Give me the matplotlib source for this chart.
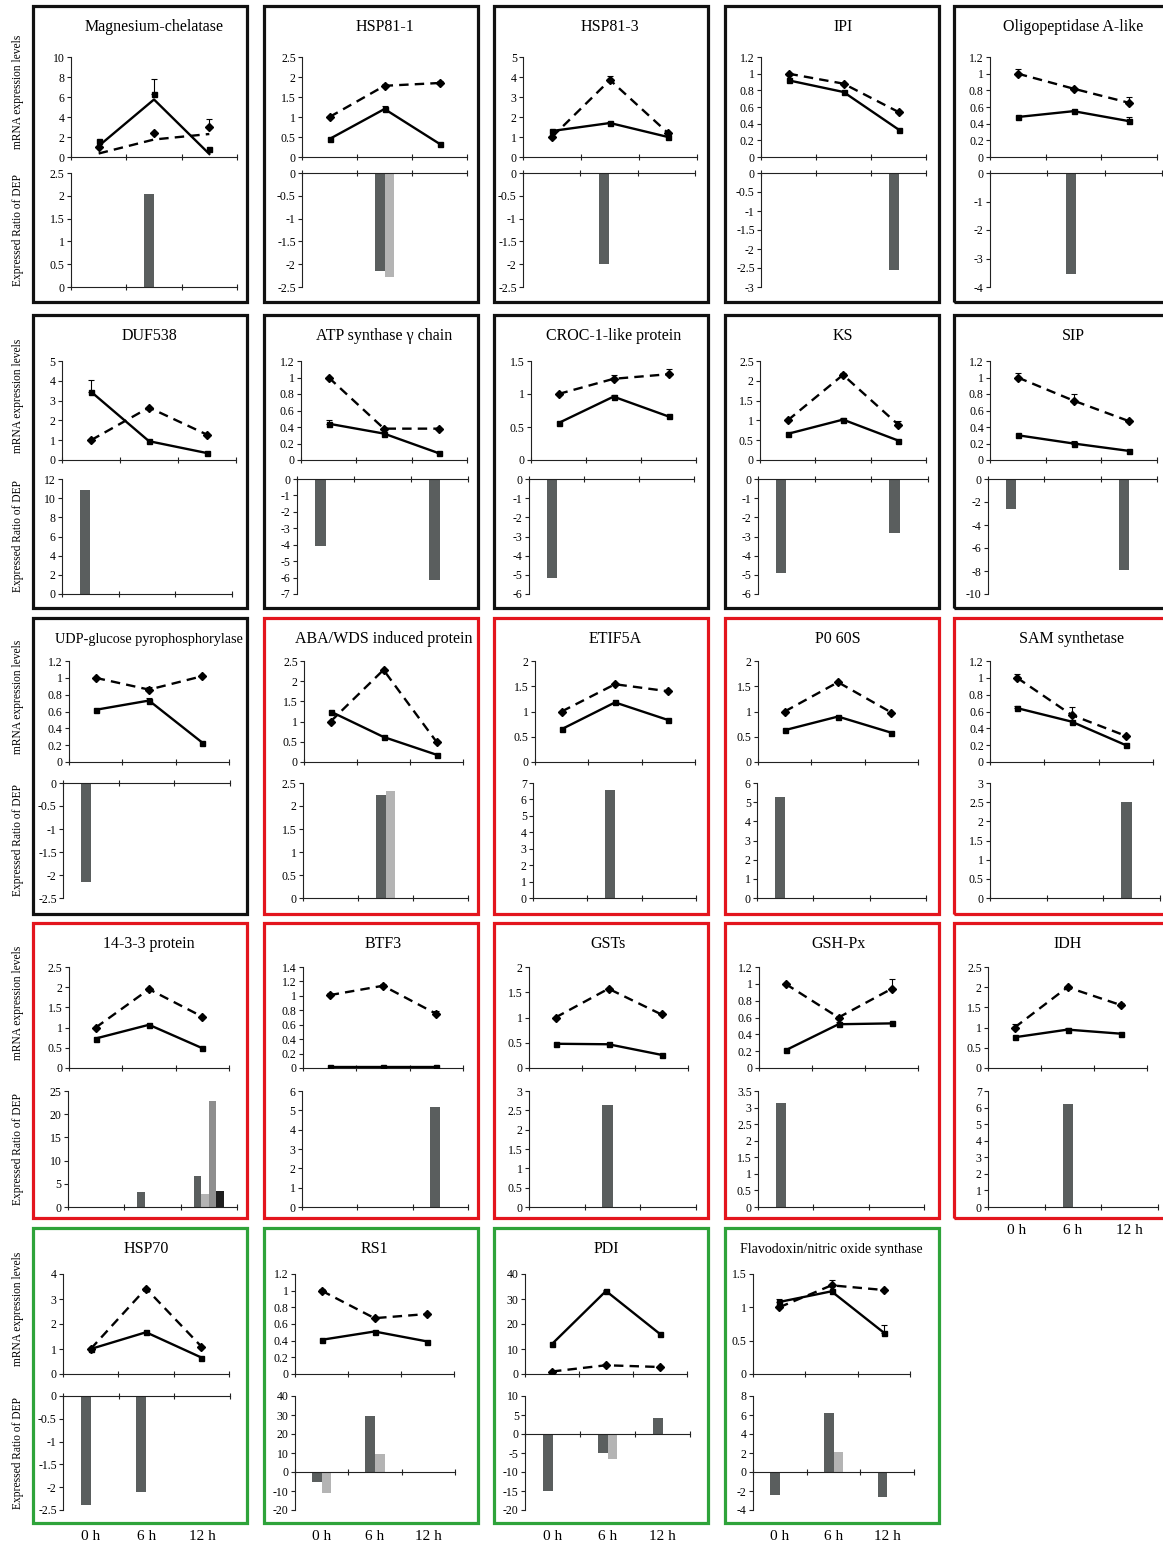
import matplotlib
matplotlib.use('Agg')
import matplotlib.pyplot as plt
import matplotlib.patches as mpatches
from matplotlib.ticker import FuncFormatter, MultipleLocator
import numpy as np

plt.rcParams['font.family'] = ['Liberation Serif', 'DejaVu Serif']
plt.rcParams['axes.unicode_minus'] = False

W, H = 1163, 1547

# ---- data ----
TITLES = ['Magnesium-chelatase', 'HSP81-1', 'HSP81-3', 'IPI', 'Oligopeptidase A-like',
          'DUF538', 'ATP synthase \u03b3 chain', 'CROC-1-like protein', 'KS', 'SIP',
          'UDP-glucose pyrophosphorylase', 'ABA/WDS induced protein', 'ETIF5A', 'P0 60S', 'SAM synthetase',
          '14-3-3 protein', 'BTF3', 'GSTs', 'GSH-Px', 'IDH',
          'HSP70', 'RS1', 'PDI', 'Flavodoxin/nitric oxide synthase']

SOLID = [[1.6, 6.3, 0.85], [0.45, 1.2, 0.33], [1.3, 1.7, 1.0], [0.92, 0.78, 0.33], [0.48, 0.55, 0.43],
         [3.45, 0.95, 0.35], [0.44, 0.32, 0.08], [0.56, 0.96, 0.66], [0.66, 1.02, 0.49], [0.3, 0.2, 0.11],
         [0.62, 0.73, 0.23], [1.25, 0.62, 0.18], [0.65, 1.18, 0.83], [0.63, 0.9, 0.58], [0.64, 0.48, 0.2],
         [0.73, 1.07, 0.49], [0.01, 0.01, 0.01], [0.48, 0.47, 0.26], [0.21, 0.52, 0.53], [0.76, 0.95, 0.85],
         [1.0, 1.67, 0.66], [0.41, 0.51, 0.39], [12.0, 33.2, 16.0], [1.08, 1.24, 0.62]]
SOLID_ERR = [[0, 1.5, 0], [0, 0.07, 0], [0, 0.04, 0], [0, 0, 0], [0, 0, 0.05],
             [0.6, 0, 0], [0.04, 0, 0.02], [0, 0.03, 0], [0, 0.05, 0], [0, 0.03, 0],
             [0, 0.03, 0], [0, 0, 0], [0, 0, 0], [0, 0, 0], [0.03, 0, 0],
             [0, 0, 0], [0, 0, 0], [0, 0, 0], [0, 0.03, 0], [0, 0.04, 0],
             [0, 0, 0], [0, 0, 0], [0, 0.6, 0], [0.05, 0, 0.12]]
DASHED = [[1.0, 2.4, 3.0], [1.0, 1.78, 1.85], [1.0, 3.85, 1.2], [1.0, 0.88, 0.54], [1.0, 0.82, 0.65],
          [1.0, 2.65, 1.28], [1.0, 0.38, 0.38], [1.0, 1.23, 1.3], [1.0, 2.15, 0.89], [1.0, 0.72, 0.47],
          [1.0, 0.86, 1.02], [1.0, 2.28, 0.5], [1.0, 1.54, 1.4], [1.0, 1.58, 0.98], [1.0, 0.56, 0.31],
          [1.0, 1.95, 1.27], [1.01, 1.14, 0.75], [1.0, 1.57, 1.06], [1.0, 0.6, 0.94], [1.0, 2.0, 1.56],
          [1.0, 3.42, 1.1], [1.0, 0.67, 0.72], [1.0, 3.5, 2.8], [1.0, 1.33, 1.26]]
DASHED_ERR = [[0, 0, 0.8], [0.03, 0.05, 0.05], [0, 0.2, 0], [0, 0, 0], [0.05, 0, 0.07],
              [0, 0, 0], [0, 0, 0], [0, 0.06, 0.08], [0, 0.05, 0.1], [0.06, 0.08, 0],
              [0, 0.03, 0], [0, 0, 0], [0, 0, 0], [0, 0, 0], [0.04, 0.09, 0],
              [0, 0, 0], [0.03, 0.03, 0.04], [0, 0, 0], [0, 0.02, 0.12], [0.1, 0, 0.06],
              [0, 0, 0], [0.02, 0, 0], [0, 0, 0], [0, 0.08, 0]]
# Magnesium-chelatase: Excel lines do not pass through the markers
LINE_OVERRIDE_SOLID = {0: [1.1, 5.75, 0.3]}
LINE_OVERRIDE_DASHED = {0: [0.35, 1.75, 2.3]}

LINE_YMAX = [10, 2.5, 5, 1.2, 1.2,
             5, 1.2, 1.5, 2.5, 1.2,
             1.2, 2.5, 2, 2, 1.2,
             2.5, 1.4, 2, 1.2, 2.5,
             4, 1.2, 40, 1.5]
LINE_YSTEP = [2, 0.5, 1, 0.2, 0.2,
              1, 0.2, 0.5, 0.5, 0.2,
              0.2, 0.5, 0.5, 0.5, 0.2,
              0.5, 0.2, 0.5, 0.2, 0.5,
              1, 0.2, 10, 0.5]

BAR_YLIM = [(0, 2.5), (-2.5, 0), (-2.5, 0), (-3, 0), (-4, 0),
            (0, 12), (-7, 0), (-6, 0), (-6, 0), (-10, 0),
            (-2.5, 0), (0, 2.5), (0, 7), (0, 6), (0, 3),
            (0, 25), (0, 6), (0, 3), (0, 3.5), (0, 7),
            (-2.5, 0), (-20, 40), (-20, 10), (-4, 8)]
BAR_YSTEP = [0.5, 0.5, 0.5, 0.5, 1,
             2, 1, 1, 1, 2,
             0.5, 0.5, 1, 1, 0.5,
             5, 1, 0.5, 0.5, 1,
             0.5, 10, 5, 2]
BAR_DARK = [[0, 2.03, 0], [0, -2.15, 0], [0, -2.0, 0], [0, 0, -2.55], [0, -3.55, 0],
            [10.9, 0, 0], [-4.1, 0, -6.15], [-5.15, 0, 0], [-4.9, 0, -2.8], [-2.6, 0, -7.95],
            [-2.15, 0, 0], [0, 2.25, 0], [0, 6.55, 0], [5.25, 0, 0], [0, 0, 2.5],
            [0, 3.2, 6.6], [0, 0, 5.15], [0, 2.65, 0], [3.15, 0, 0], [0, 6.2, 0],
            [-2.38, -2.1, 0], [-5.5, 29.7, 0], [-15.0, -4.9, 4.1], [-2.4, 6.2, -2.6]]
BAR_LIGHT = {1: [0, -2.28, 0], 11: [0, 2.33, 0], 15: [0, 0, 2.9],
             21: [-11.0, 9.3, 0], 22: [0, -6.6, 0], 23: [0, 2.1, 0]}
BAR_MID = {15: [0, 0, 22.9]}
BAR_BLACK = {15: [0, 0, 3.5]}

TIMES = ['0 h', '6 h', '12 h']

BOX_COLORS = ['k'] * 11 + ['r'] * 9 + ['g'] * 4

# ---- layout (pixels) ----
ROW_BOX = [(6, 302), (315, 608), (618, 914), (923, 1218), (1228, 1523)]
ROW_LINE_Y = [(57, 157), (361, 460), (661, 762), (967, 1068), (1274, 1374)]
ROW_BAR_Y = [(173, 287), (479, 594), (783, 898), (1091, 1207), (1396, 1510)]
COL_BOX_X = [33, 264, 494, 725, 954]
BOX_W = 214
LINE_X = [(71, 237), (302, 467), (523, 697), (761, 926), (990, 1157),
          (62, 236), (301, 467), (531, 696), (760, 926), (990, 1157),
          (69, 229), (304, 463), (535, 695), (758, 918), (990, 1153),
          (69, 229), (303, 463), (529, 688), (759, 918), (988, 1147),
          (63, 229), (295, 454), (525, 687), (753, 910)]
BAR_X = [(71, 237), (302, 467), (523, 695), (761, 926), (990, 1162),
         (62, 232), (297, 468), (529, 694), (758, 928), (988, 1157),
         (63, 230), (303, 468), (533, 696), (757, 926), (990, 1160),
         (68, 237), (302, 468), (529, 696), (758, 924), (988, 1158),
         (63, 230), (295, 455), (525, 690), (753, 914)]
XLABEL_PANELS = [19, 20, 21, 22, 23]

EDGE = {'k': '#111111', 'r': '#e3151d', 'g': '#2ea33a'}
BAR_COLORS = ['#5a5e5e', '#b4b4b4', '#8e8e8e', '#1e1e1e']

fmt = FuncFormatter(lambda v, p: '%g' % round(v, 6))


def frac(x0, y0, x1, y1):
    return [x0 / W, 1 - y1 / H, (x1 - x0) / W, (y1 - y0) / H]


def style(ax):
    for s in ['top', 'right']:
        ax.spines[s].set_visible(False)
    for s in ['left', 'bottom']:
        ax.spines[s].set_linewidth(0.8)
        ax.spines[s].set_color('#222222')
    ax.set_xlim(0, 3)
    ax.set_xticks([0, 1, 2, 3])
    ax.set_xticklabels([])
    ax.tick_params(axis='x', direction='inout', length=5, width=0.8, color='#222222')
    ax.tick_params(axis='y', direction='out', length=3, width=0.8, pad=1.5,
                   labelsize=8.5, color='#222222')
    ax.yaxis.set_major_formatter(fmt)
    ax.patch.set_alpha(0)


def title_size(t):
    if len(t) > 30:
        return 10
    if len(t) > 25:
        return 10.3
    return 11.5


fig = plt.figure(figsize=(W / 100, H / 100), dpi=100)
x = np.array([0.5, 1.5, 2.5])

for i, title in enumerate(TITLES):
    r, c = divmod(i, 5)
    bt, bb = ROW_BOX[r]
    bl = COL_BOX_X[c]
    rect = mpatches.Rectangle((bl / W, 1 - bb / H), BOX_W / W, (bb - bt) / H,
                              transform=fig.transFigure, fill=False,
                              edgecolor=EDGE[BOX_COLORS[i]], linewidth=2.3)
    fig.add_artist(rect)

    # line chart
    lx0, lx1 = LINE_X[i]
    ly0, ly1 = ROW_LINE_Y[r]
    ax = fig.add_axes(frac(lx0, ly0, lx1, ly1))
    style(ax)
    ax.set_ylim(0, LINE_YMAX[i])
    ax.yaxis.set_major_locator(MultipleLocator(LINE_YSTEP[i]))

    sl = LINE_OVERRIDE_SOLID.get(i, SOLID[i])
    dl = LINE_OVERRIDE_DASHED.get(i, DASHED[i])
    ax.plot(x, dl, color='black', lw=1.7, ls=(0, (4, 2.6)), zorder=3)
    ax.plot(x, sl, color='black', lw=1.7, zorder=3)
    ax.plot(x, DASHED[i], ls='none', marker='D', ms=4.2, color='black', zorder=4)
    ax.plot(x, SOLID[i], ls='none', marker='s', ms=3.6, color='black', zorder=4)
    for vals, errs in [(SOLID[i], SOLID_ERR[i]), (DASHED[i], DASHED_ERR[i])]:
        v = np.array(vals)
        e = np.array(errs)
        m = e > 0
        if m.any():
            ax.errorbar(x[m], v[m], yerr=[np.zeros(m.sum()), e[m]], fmt='none',
                        ecolor='black', elinewidth=0.8, capsize=2.5, capthick=0.8, zorder=4)
    ax.set_title(title, fontsize=title_size(title), pad=0,
                 y=1 + (ly0 - (bt + 21)) / (ly1 - ly0), va='center')

    # bar chart
    bx0, bx1 = BAR_X[i]
    by0, by1 = ROW_BAR_Y[r]
    bx = fig.add_axes(frac(bx0, by0, bx1, by1))
    style(bx)
    bx.set_ylim(*BAR_YLIM[i])
    bx.yaxis.set_major_locator(MultipleLocator(BAR_YSTEP[i]))
    bx.spines['bottom'].set_position(('data', 0))
    series = [BAR_DARK[i], BAR_LIGHT.get(i), BAR_MID.get(i), BAR_BLACK.get(i)]
    n = 4 if BAR_MID.get(i) is not None else 2
    w = 0.135 if n == 4 else 0.18
    for k in range(n):
        if series[k] is None:
            continue
        off = (k - (n - 1) / 2) * w
        bx.bar(x + off, series[k], width=w, color=BAR_COLORS[k], zorder=2)

    if i in XLABEL_PANELS:
        for xc, lab in zip(x, TIMES):
            bx.annotate(lab, xy=(xc, 0), xycoords=('data', 'axes fraction'),
                        xytext=(0, -27 if r == 4 else -24), textcoords='offset pixels',
                        ha='center', va='center', fontsize=11)

for r in range(5):
    ly0, ly1 = ROW_LINE_Y[r]
    by0, by1 = ROW_BAR_Y[r]
    fig.text(18 / W, 1 - ((ly0 + ly1) / 2 - 15) / H, 'mRNA expression levels',
             rotation=90, ha='center', va='center', fontsize=8.3)
    fig.text(18 / W, 1 - ((by0 + by1) / 2) / H, 'Expressed Ratio of DEP',
             rotation=90, ha='center', va='center', fontsize=8.3)

fig.savefig('out.png', dpi=100, facecolor='white')
